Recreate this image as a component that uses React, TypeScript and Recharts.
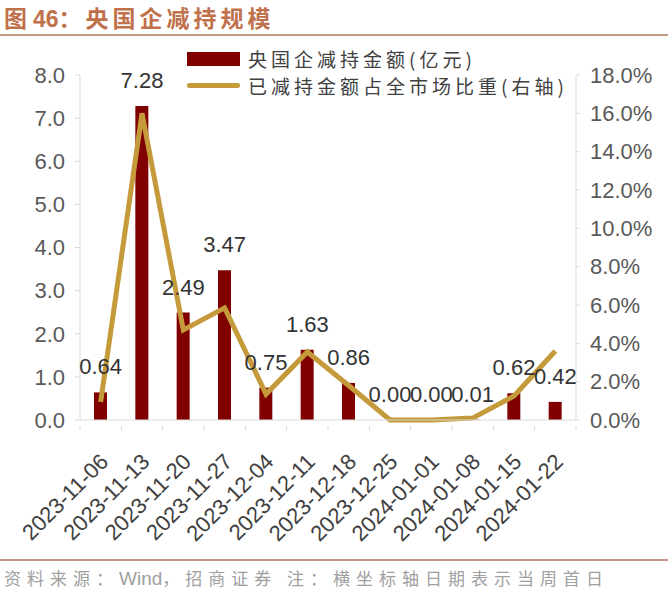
import {
  Bar,
  ComposedChart,
  LabelList,
  Legend,
  Line,
  XAxis,
  YAxis,
} from "recharts";

const weeks = [
  "2023-11-06",
  "2023-11-13",
  "2023-11-20",
  "2023-11-27",
  "2023-12-04",
  "2023-12-11",
  "2023-12-18",
  "2023-12-25",
  "2024-01-01",
  "2024-01-08",
  "2024-01-15",
  "2024-01-22",
];
// 央国企减持金额(亿元)
const amounts = [0.64, 7.28, 2.49, 3.47, 0.75, 1.63, 0.86, 0.0, 0.0, 0.01, 0.62, 0.42];
// 已减持金额占全市场比重(%)
const shares = [0.95, 16.0, 4.7, 5.85, 1.35, 3.55, 1.8, 0.0, 0.0, 0.1, 1.25, 3.6];

const leftTicks = [0, 1, 2, 3, 4, 5, 6, 7, 8];
const rightTicks = [0, 2, 4, 6, 8, 10, 12, 14, 16, 18];

const data = weeks.map((w, i) => ({ week: w, amount: amounts[i], share: shares[i] }));

const W = 668;
const H = 591;
const LEFT_W = 80;
const RIGHT_W = 92;
const TOP = 75;
const BOTTOM_H = 171;
const STEP = (W - LEFT_W - RIGHT_W) / weeks.length;

const BAR = "#800000";
const GOLD = "#C49A3A";
const AXIS = "#D9D9D9";
const FONT = "'Liberation Sans', Arial, sans-serif";
const CJK = "'Noto Sans CJK SC', sans-serif";

// date label rotated -45deg plus a tick mark on the category boundary
function DateTick(props: any) {
  const { x, y, payload, index } = props;
  const axisY = y - 2;
  const ax = x + 9;
  const ay = axisY + 37;
  return (
    <g>
      <line x1={x - STEP / 2} x2={x - STEP / 2} y1={axisY} y2={axisY + 5} stroke={AXIS} />
      {index === weeks.length - 1 && (
        <line x1={x + STEP / 2} x2={x + STEP / 2} y1={axisY} y2={axisY + 5} stroke={AXIS} />
      )}
      <text
        x={ax}
        y={ay}
        textAnchor="end"
        fontSize={22}
        fontFamily={FONT}
        fill="#404040"
        transform={`rotate(-45, ${ax}, ${ay})`}
      >
        {payload.value}
      </text>
    </g>
  );
}

function LegendBox() {
  const row = { display: "flex", alignItems: "center", height: 27 } as const;
  const txt = {
    fontFamily: CJK,
    fontSize: 19,
    letterSpacing: 4,
    color: "#404040",
    marginLeft: 8,
    whiteSpace: "nowrap",
  } as const;
  return (
    <div>
      <div style={row}>
        <span style={{ width: 53, height: 14, background: BAR, display: "inline-block" }} />
        <span style={txt}>央国企减持金额(亿元)</span>
      </div>
      <div style={row}>
        <span
          style={{ width: 53, height: 5, borderRadius: 3, background: GOLD, display: "inline-block" }}
        />
        <span style={txt}>已减持金额占全市场比重(右轴)</span>
      </div>
    </div>
  );
}

export default function App() {
  const spaced = { letterSpacing: 6 };
  return (
    <div style={{ position: "absolute", left: 0, top: 0, width: W, height: H, background: "#fff" }}>
      <div
        style={{
          position: "absolute",
          left: 4,
          top: 0,
          fontFamily: CJK,
          fontWeight: 700,
          fontSize: 23,
          color: "#C0714B",
          whiteSpace: "nowrap",
        }}
      >
        <span style={{ marginRight: 6 }}>图</span>
        <span style={{ fontFamily: FONT }}>46</span>
        <span style={{ letterSpacing: 4 }}>：央国企减持规模</span>
      </div>
      <div style={{ position: "absolute", left: 0, top: 34, width: W, height: 2, background: "#C49A84" }} />

      <div style={{ position: "absolute", left: 0, top: 0 }}>
        <ComposedChart
          width={W}
          height={H}
          data={data}
          margin={{ top: TOP, right: 0, bottom: 0, left: 0 }}
        >
          <XAxis
            dataKey="week"
            height={BOTTOM_H}
            stroke={AXIS}
            tickLine={false}
            interval={0}
            tick={<DateTick />}
          />
          <YAxis
            yAxisId="left"
            width={LEFT_W}
            domain={[0, 8]}
            ticks={leftTicks}
            tickFormatter={(v: number) => v.toFixed(1)}
            stroke={AXIS}
            tickSize={5}
            tickMargin={10}
            tick={{ fill: "#595959", fontSize: 22, fontFamily: FONT }}
          />
          <YAxis
            yAxisId="right"
            orientation="right"
            width={RIGHT_W}
            domain={[0, 18]}
            ticks={rightTicks}
            tickFormatter={(v: number) => `${v.toFixed(1)}%`}
            stroke={AXIS}
            tickSize={4}
            tickMargin={10}
            tick={{ fill: "#595959", fontSize: 22, fontFamily: FONT }}
          />
          <Legend
            layout="vertical"
            align="center"
            verticalAlign="middle"
            content={() => <LegendBox />}
            wrapperStyle={{ top: 45, left: 187, width: 420, height: 60 }}
          />
          <Bar
            yAxisId="left"
            dataKey="amount"
            fill={BAR}
            barSize={13}
            isAnimationActive={false}
          />
          <Line
            yAxisId="right"
            dataKey="share"
            stroke={GOLD}
            strokeWidth={5}
            dot={false}
            isAnimationActive={false}
          />
          {/* invisible carrier for bar value labels, so zero bars get labels too */}
          <Line
            yAxisId="left"
            dataKey="amount"
            stroke="none"
            dot={false}
            activeDot={false}
            legendType="none"
            isAnimationActive={false}
          >
            <LabelList
              dataKey="amount"
              position="top"
              offset={18}
              formatter={(v: any) => Number(v).toFixed(2)}
              style={{ fill: "#333", fontSize: 22, fontFamily: FONT }}
            />
          </Line>
        </ComposedChart>
      </div>

      <div style={{ position: "absolute", left: 0, top: 559, width: W, height: 2, background: "#C49A84" }} />
      <div
        style={{
          position: "absolute",
          left: 4,
          top: 565,
          fontFamily: CJK,
          fontSize: 17,
          color: "#A0A0A0",
          whiteSpace: "nowrap",
        }}
      >
        <span style={spaced}>资料来源：</span>
        <span style={{ fontFamily: FONT, fontSize: 19 }}>Wind</span>
        <span style={spaced}>，招商证券 注：横坐标轴日期表示当周首日</span>
      </div>
    </div>
  );
}
